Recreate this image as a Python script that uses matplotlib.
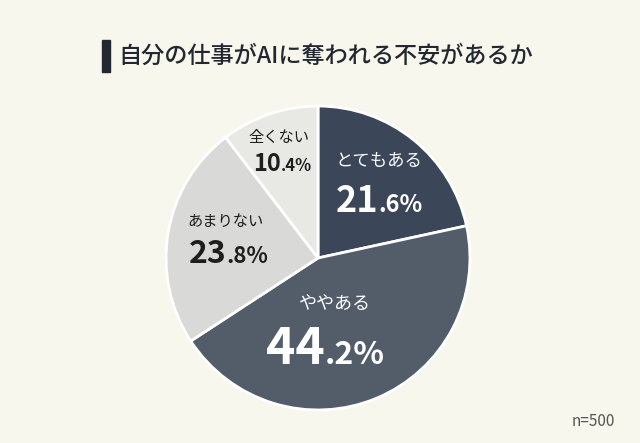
import matplotlib.pyplot as plt
from matplotlib.patches import Rectangle

plt.rcParams['font.family'] = ['Noto Sans CJK JP', 'DejaVu Sans']

# data
labels = ["とてもある", "ややある", "あまりない", "全くない"]
values = [21.6, 44.2, 23.8, 10.4]
colors = ["#3b4659", "#535d69", "#d9d9d8", "#e8e8e5"]
text_colors = ["white", "white", "#1e1e1e", "#1e1e1e"]
title = "自分の仕事がAIに奪われる不安があるか"
note = "n=500"

# label layout (data units in the pie axes): name pos, value pos, sizes
name_xy = [(0.40, 0.64), (0.11, -0.30), (-0.61, 0.24), (-0.26, 0.79)]
value_xy = [(0.40, 0.30), (0.05, -0.70), (-0.59, -0.03), (-0.23, 0.575)]
name_size = [12.5, 13, 11, 11]
big_size = [26, 36, 23, 17]
small_size = [17, 23, 16, 12]

bg = "#f7f7ee"
fig = plt.figure(figsize=(6.4, 4.43), dpi=100, facecolor=bg)

cx, cy, r = 318, 258, 155
ax = fig.add_axes([(cx - r) / 640, (443 - cy - r) / 443, 2 * r / 640, 2 * r / 443])
ax.set_facecolor(bg)
ax.pie(values, colors=colors, startangle=90, counterclock=False, radius=1.0,
       wedgeprops=dict(edgecolor="white", linewidth=2))
ax.set_xlim(-1.02, 1.02)
ax.set_ylim(-1.02, 1.02)
ax.set_aspect("equal")
ax.axis("off")

pairs = []
for i, lab in enumerate(labels):
    ax.text(name_xy[i][0], name_xy[i][1], lab, ha="center", va="center",
            fontsize=name_size[i], color=text_colors[i])
    whole, dec = f"{values[i]:.1f}".split(".")
    t1 = ax.text(value_xy[i][0], value_xy[i][1], whole, ha="left", va="baseline",
                 fontsize=big_size[i], fontweight="bold", color=text_colors[i])
    t2 = ax.text(value_xy[i][0], value_xy[i][1], "." + dec + "%", ha="left", va="baseline",
                 fontsize=small_size[i], fontweight="bold", color=text_colors[i])
    pairs.append((t1, t2, value_xy[i]))

# title with bar
fig.patches.append(Rectangle((102 / 640, 1 - 72 / 443), 8 / 640, 32 / 443,
                             transform=fig.transFigure, color="#23272f"))
fig.text(118 / 640, 1 - 56 / 443, title, ha="left", va="center",
         fontsize=16.7, color="#23272f", fontweight="medium")
fig.text(615 / 640, 1 - 422 / 443, note, ha="right", va="center",
         fontsize=11, color="#555555")

# center the split value labels
fig.canvas.draw()
rend = fig.canvas.get_renderer()
inv = ax.transData.inverted()
for t1, t2, (x, y) in pairs:
    b1 = t1.get_window_extent(rend)
    b2 = t2.get_window_extent(rend)
    total = b1.width + b2.width
    px, py = ax.transData.transform((x, y))
    left = px - total / 2
    t1.set_position(inv.transform((left, py)))
    t2.set_position(inv.transform((left + b1.width, py)))

fig.savefig("out.png", dpi=100, facecolor=bg)
